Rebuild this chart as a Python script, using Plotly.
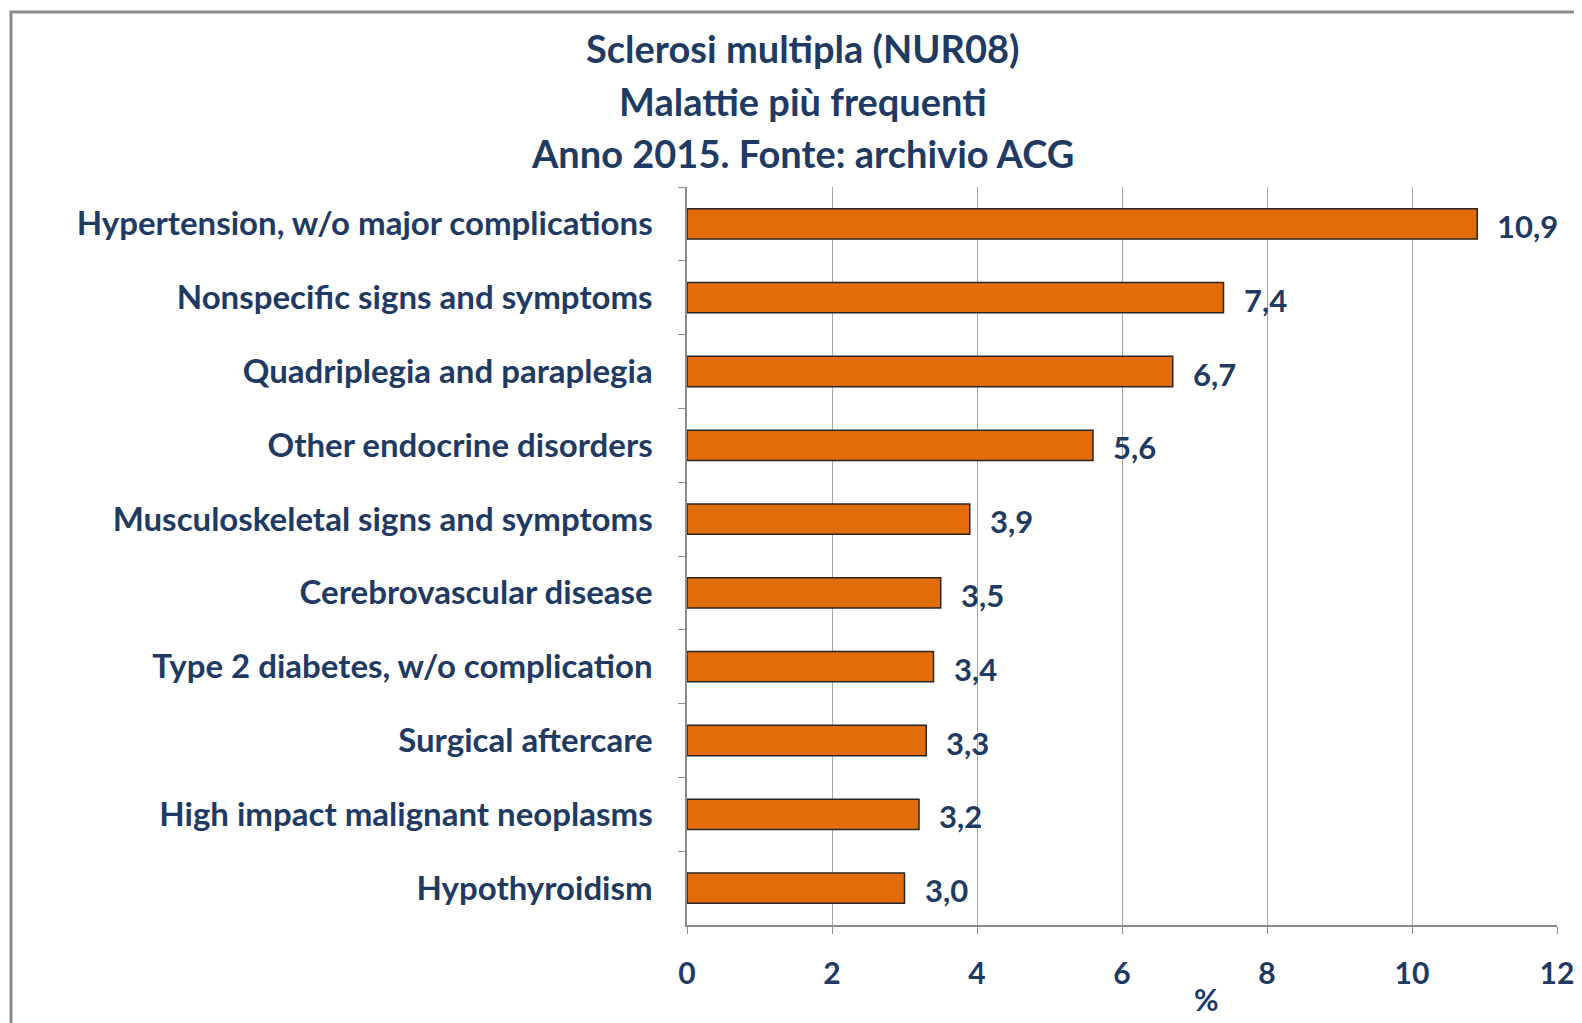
import plotly.graph_objects as go

# dati
categorie = ['Hypertension, w/o major complications', 'Nonspecific signs and symptoms',
             'Quadriplegia and paraplegia', 'Other endocrine disorders',
             'Musculoskeletal signs and symptoms', 'Cerebrovascular disease',
             'Type 2 diabetes, w/o complication', 'Surgical aftercare',
             'High impact malignant neoplasms', 'Hypothyroidism']
valori = [10.9, 7.4, 6.7, 5.6, 3.9, 3.5, 3.4, 3.3, 3.2, 3.0]
titolo = ['Sclerosi multipla (NUR08)', 'Malattie più frequenti', 'Anno 2015. Fonte: archivio ACG']
x_ticks = [0, 2, 4, 6, 8, 10, 12]

blu = '#1F3B63'
font_fam = 'Lato'

fig = go.Figure()
fig.add_trace(go.Bar(x=valori, y=categorie, orientation='h',
                     marker=dict(color='#E36C0A', line=dict(color='#262626', width=1.5)),
                     hoverinfo='x+y'))

# etichette valori
for c, v in zip(categorie, valori):
    fig.add_annotation(x=v, y=c, text=f'{v:.1f}'.replace('.', ','), showarrow=False,
                       xanchor='left', xshift=18, yshift=-2,
                       font=dict(family=font_fam, size=31, color=blu, weight='bold'))

# titolo su tre righe
for yy, t in zip([1.188, 1.117, 1.046], titolo):
    fig.add_annotation(x=0.133, y=yy, xref='paper', yref='paper', text=t, showarrow=False,
                       xanchor='center', yanchor='middle',
                       font=dict(family=font_fam, size=38, color=blu, weight='bold'))

# titolo asse x
fig.add_annotation(x=0.597, y=-0.1, xref='paper', yref='paper', text='%', showarrow=False,
                   xanchor='center', yanchor='middle',
                   font=dict(family=font_fam, size=30, color=blu, weight='bold'))

# cornice esterna
fig.add_shape(type='rect', xref='paper', yref='paper', x0=-0.777, x1=1.2, y0=-0.3, y1=1.237,
              line=dict(color='#8C8C8C', width=3), fillcolor='rgba(0,0,0,0)', layer='below')

fig.update_layout(
    width=1582, height=1023,
    margin=dict(l=679, r=33, t=179, b=106),
    paper_bgcolor='white', plot_bgcolor='white',
    showlegend=False, bargap=0.59,
    font=dict(family=font_fam, color=blu),
)
fig.update_xaxes(range=[0, 12], tickvals=x_ticks, showgrid=True, gridcolor='#A6A6A6', gridwidth=1,
                 zeroline=False, showline=True, linecolor='#8C8C8C', linewidth=1.5,
                 ticks='outside', ticklen=7, tickcolor='#8C8C8C', ticklabelstandoff=14,
                 tickfont=dict(family=font_fam, size=30, color=blu, weight='bold'))
fig.update_yaxes(autorange='reversed', showgrid=False, zeroline=False, showline=True,
                 linecolor='#8C8C8C', linewidth=1.5, ticks='outside', tickson='boundaries',
                 ticklen=7, tickcolor='#8C8C8C', ticklabelstandoff=26,
                 tickfont=dict(family=font_fam, size=33, color=blu, weight='bold'))

fig.write_html('out.html')
